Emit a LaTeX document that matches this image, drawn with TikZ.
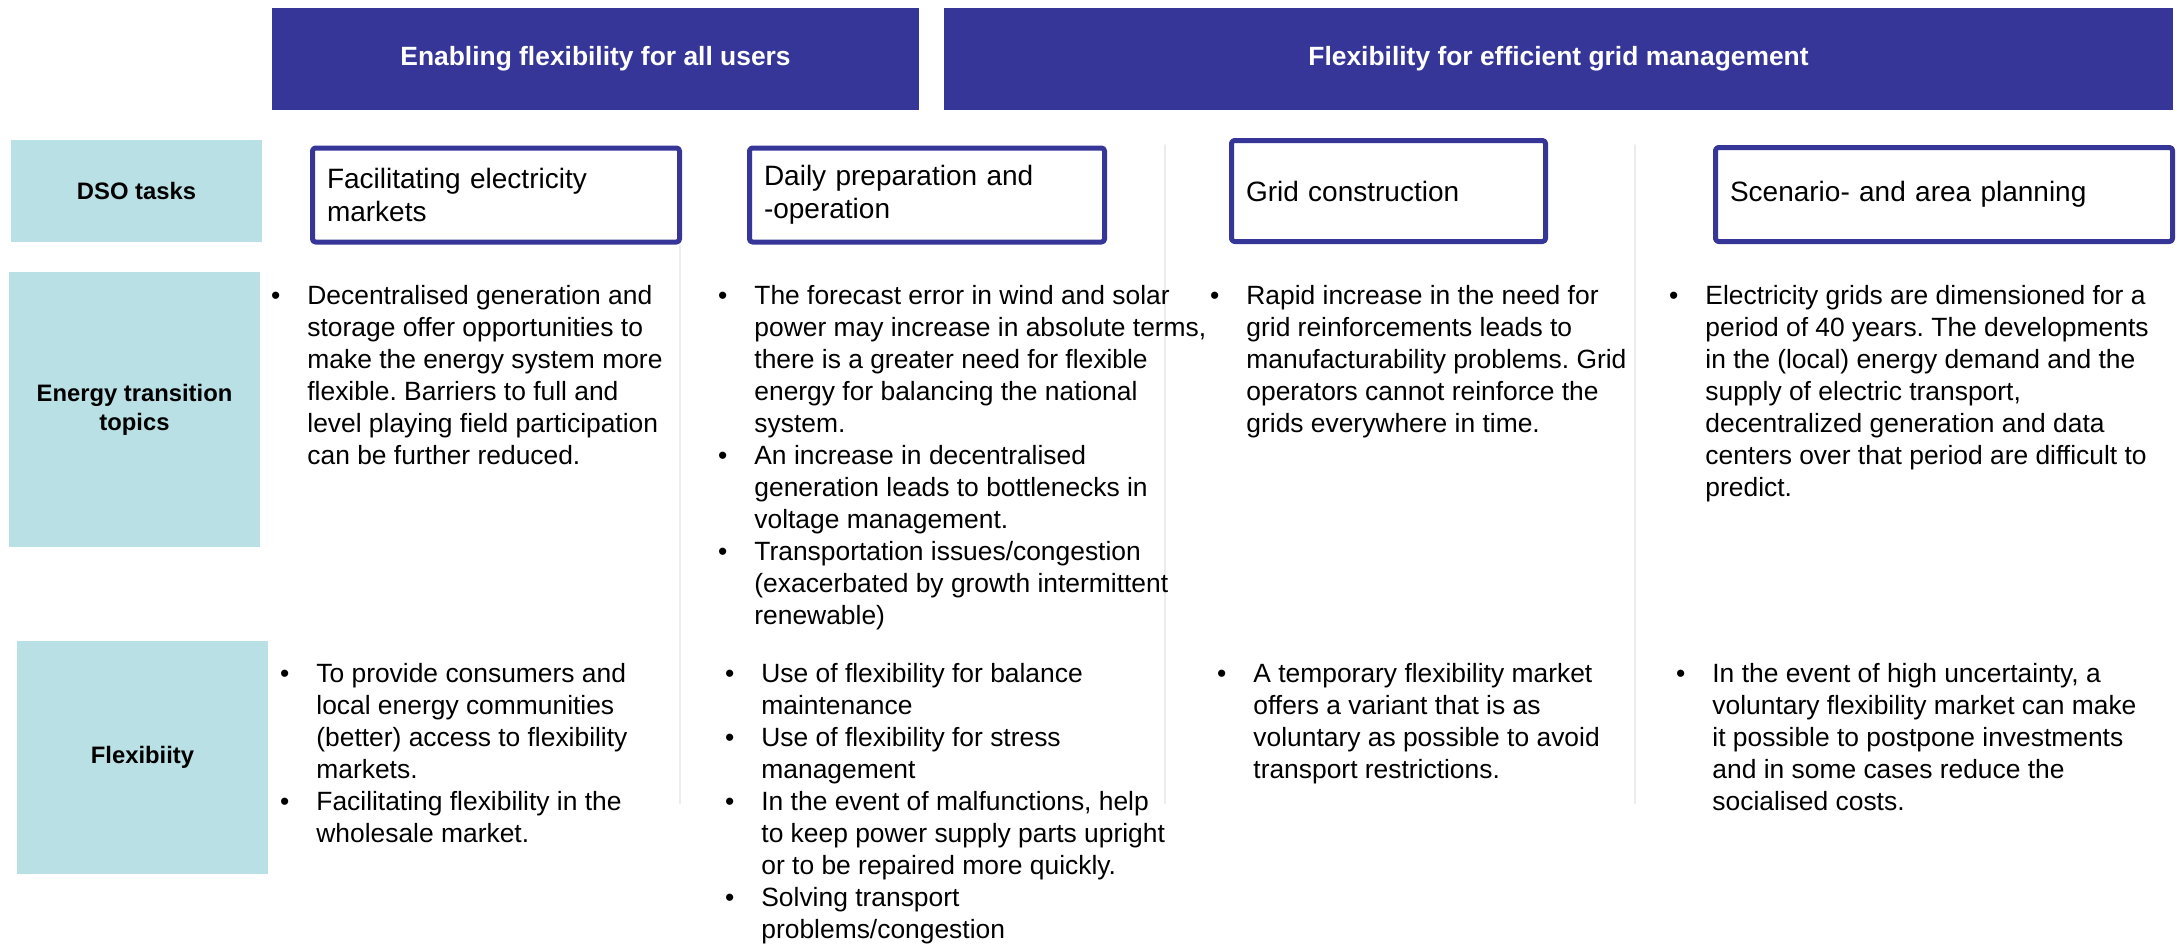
\documentclass[tikz,border=0pt]{standalone}
\usepackage{fontspec}
\setmainfont{Liberation Sans}
\frenchspacing
\definecolor{dsonavy}{RGB}{54,54,153}
\definecolor{dsocyan}{RGB}{185,224,228}
\definecolor{sepgray}{RGB}{236,236,236}
\newcommand{\bul}{\llap{\textbullet\hspace{13.5pt}}}
\begin{document}
\begin{tikzpicture}[x=.5pt, y=-.5pt, line join=round, line cap=round,
    font=\fontsize{13.2}{16}\selectfont,
    head/.style={fill=dsonavy, text=white, inner sep=0pt, minimum height=51pt,
        font=\bfseries\fontsize{13.2}{16}\selectfont},
    rowlab/.style={fill=dsocyan, align=center, inner sep=0pt, minimum width=125.5pt,
        font=\bfseries\fontsize{11.9}{14.5}\selectfont},
    task/.style={draw=dsonavy, line width=2.5pt, fill=white, rounded corners=1.5pt,
        inner xsep=7.25pt, align=left, minimum height=47pt,
        font=\fontsize{14}{16.5}\selectfont},
    txt/.style={anchor=base west, align=left, inner sep=0pt}]
\useasboundingbox (0,0) rectangle (2177,943);
% bars on top
\node[head, minimum width=323.5pt] (enab) at (595.5,59) {Enabling flexibility for all users};
\node[head, minimum width=614.5pt] (gridm) at (1558.5,59) {Flexibility for efficient grid management};
% row titles
\node[rowlab, minimum height=51pt] (dso) at (136.5,191) {DSO tasks};
\node[rowlab, minimum height=137.5pt] (energy) at (134.5,409.5) {Energy transition\\topics};
\node[rowlab, minimum height=116.5pt] (flex) at (142.5,757.5) {Flexibiity};
% thin column lines
\draw[sepgray, line width=1pt] (680,245) -- (680,803) (1165,145) -- (1165,803) (1635,145) -- (1635,803);
% DSO tasks
\node[task, text width=169pt] (t1) at (496,195) {Facilitating electricity\\markets};
\node[task, text width=163pt] (t2) at (927,195) {Daily preparation and\\-operation};
\node[task, text width=142.5pt, minimum height=50.5pt] (t3) at (1388.5,191) {Grid construction};
\node[task, text width=214pt] (t4) at (1944,194.5) {Scenario- and area planning};
% energy transition topics (y = baseline of last line)
\node[txt] (e1) at (307,464) {\bul Decentralised generation and\\storage offer opportunities to\\make the energy system more\\flexible. Barriers to full and\\level playing field participation\\can be further reduced.};
\node[txt] (e2) at (754,624) {\bul The forecast error in wind and solar\\power may increase in absolute terms,\\there is a greater need for flexible\\energy for balancing the national\\system.\\
    \bul An increase in decentralised\\generation leads to bottlenecks in\\voltage management.\\
    \bul Transportation issues/congestion\\(exacerbated by growth intermittent\\renewable)};
\node[txt] (e3) at (1246,432) {\bul Rapid increase in the need for\\grid reinforcements leads to\\manufacturability problems. Grid\\operators cannot reinforce the\\grids everywhere in time.};
\node[txt] (e4) at (1705,496) {\bul Electricity grids are dimensioned for a\\period of 40 years. The developments\\in the (local) energy demand and the\\supply of electric transport,\\decentralized generation and data\\centers over that period are difficult to\\predict.};
% flexibility
\node[txt] (f1) at (316,842) {\bul To provide consumers and\\local energy communities\\(better) access to flexibility\\markets.\\
    \bul Facilitating flexibility in the\\wholesale market.};
\node[txt] (f2) at (761,938) {\bul Use of flexibility for balance\\maintenance\\
    \bul Use of flexibility for stress\\management\\
    \bul In the event of malfunctions, help\\to keep power supply parts upright\\or to be repaired more quickly.\\
    \bul Solving transport\\problems/congestion};
\node[txt] (f3) at (1253,778) {\bul A temporary flexibility market\\offers a variant that is as\\voluntary as possible to avoid\\transport restrictions.};
\node[txt] (f4) at (1712,810) {\bul In the event of high uncertainty, a\\voluntary flexibility market can make\\it possible to postpone investments\\and in some cases reduce the\\socialised costs.};
\end{tikzpicture}
\end{document}
